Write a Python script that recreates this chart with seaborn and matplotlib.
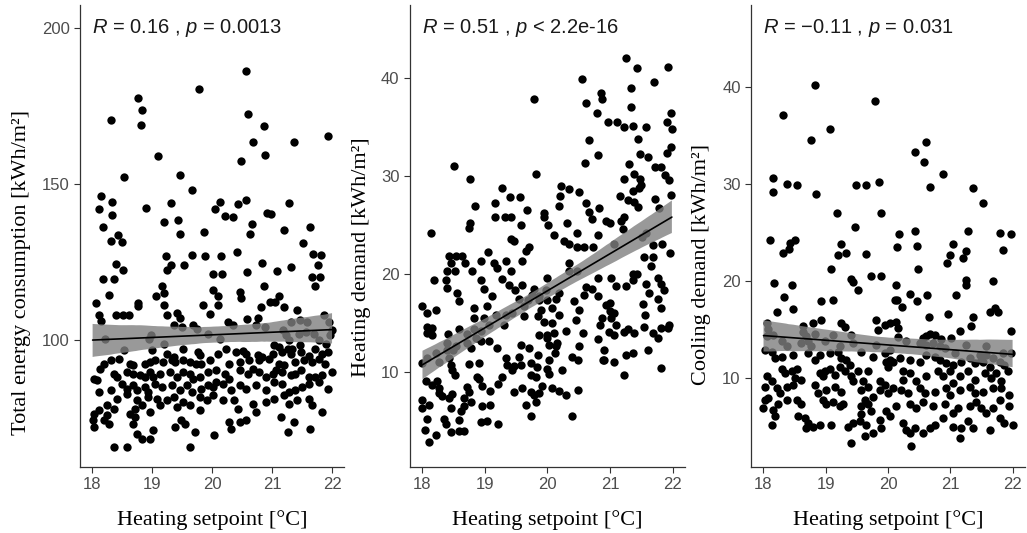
import numpy as np
import pandas as pd
import matplotlib
matplotlib.use("Agg")
import matplotlib.pyplot as plt
import matplotlib.transforms as mtransforms
import seaborn as sns

# ---------------- data ----------------
# (heating setpoint [°C], total energy consumption [kWh/m2])
total_points = [
    (20.57,186.3),(19.79,180.4),(18.76,177.5),(18.84,173.8),(18.82,169.0),(18.32,170.5),(20.60,172.5),(20.86,168.7),
    (21.93,165.4),(20.68,163.7),(21.37,163.5),(20.88,159.3),(19.10,159.0),(20.49,157.4),(19.47,153.0),(18.54,152.2),
    (19.66,148.1),(18.15,146.4),(18.33,144.3),(18.12,142.0),(20.13,144.3),(20.57,145.1),(20.44,143.6),(21.28,144.0),
    (20.05,142.0),(19.31,144.0),(18.90,142.3),(18.34,140.1),(20.21,139.8),(20.35,139.6),(20.91,140.9),(20.98,140.4),
    (19.20,137.9),(19.43,138.5),(20.66,137.4),(18.18,136.3),(19.87,134.6),(21.63,136.3),(18.43,133.8),(18.50,131.6),
    (18.32,131.9),(19.47,134.0),(20.63,134.0),(21.20,135.4),(21.51,131.3),(19.66,127.5),(19.88,126.9),(19.23,126.9),
    (20.15,126.9),(20.42,128.4),(21.68,127.7),(21.82,127.5),(18.40,124.4),(19.31,124.2),(19.53,124.2),(20.84,124.7),
    (21.31,123.6),(21.76,124.2),(18.51,122.5),(19.25,122.5),(20.02,121.4),(20.16,121.2),(20.58,122.0),(21.09,122.3),
    (21.67,120.3),(21.80,120.3),(18.18,119.6),(18.37,119.6),(21.72,117.6),(19.16,117.6),(20.86,117.6),(19.06,114.3),
    (19.20,115.2),(18.29,114.5),(20.01,116.2),(20.10,114.1),(20.46,115.6),(20.49,113.7),(21.11,114.1),(18.06,112.1),
    (18.77,112.1),(19.85,111.5),(20.10,111.5),(20.96,112.3),(21.05,112.3),(19.20,111.5),(20.82,110.8),(21.20,110.7),
    (21.41,109.7),(18.11,108.2),(18.15,106.4),(18.40,108.2),(18.52,108.1),(18.62,108.1),(18.77,111.0),(19.25,108.2),
    (19.42,108.8),(19.47,107.1),(19.96,108.6),(20.27,106.0),(20.35,104.9),(20.59,106.8),(20.76,107.1),(20.73,104.9),
    (21.87,108.2),(21.95,106.0),(21.31,106.0),(21.47,106.6),(21.59,106.0),(19.36,104.9),(19.50,104.4),(19.75,103.8),
    (19.69,104.9),(20.89,104.4),(18.21,100.5),(18.98,101.6),(18.95,100.5),(19.94,102.2),(20.13,100.5),(19.20,98.9),
    (21.18,103.3),(21.24,101.6),(21.29,100.0),(21.97,101.6),(22.00,103.3),(21.45,102.2),(21.56,102.7),(21.70,102.2),
    (21.79,100.0),(21.90,98.9),(21.04,98.4),(21.12,97.8),(21.34,97.3),(21.47,98.4),
    (18.53,97.0),(19.00,96.8),(19.25,95.7),(19.36,94.7),(19.52,97.3),(19.77,96.3),(19.80,95.2),(20.10,95.7),
    (20.24,97.3),(20.40,96.3),(20.51,96.6),(20.57,95.7),(20.76,95.2),(20.84,94.7),(21.01,95.7),(21.17,96.3),
    (21.26,97.3),(21.31,95.7),(21.48,96.3),(21.61,94.9),(21.72,97.3),(21.83,95.7),(21.94,96.3),
    (18.31,93.6),(18.20,92.5),(18.14,90.9),(18.45,94.1),(18.64,92.5),(18.69,92.0),(18.89,92.5),(18.97,93.1),
    (19.05,93.6),(19.19,93.1),(19.33,93.6),(19.38,93.1),(19.52,93.6),(19.63,93.1),(19.74,92.5),(19.82,92.5),
    (19.96,93.6),(20.29,92.5),(20.46,93.1),(20.62,93.6),(20.79,93.6),(20.95,94.1),(21.12,92.5),(21.20,92.0),
    (21.39,93.1),(21.53,93.6),(21.67,93.1),(21.78,94.1),(21.89,92.5),
    (18.03,87.7),(18.09,87.2),(18.36,89.3),(18.42,88.2),(18.58,89.9),(18.69,89.3),(18.80,88.8),(18.89,88.2),
    (18.97,89.9),(19.02,88.2),(19.13,89.3),(19.30,89.9),(19.41,88.2),(19.52,89.9),(19.63,89.3),(19.69,87.7),
    (19.80,88.2),(19.93,89.9),(20.07,90.4),(20.21,89.3),(20.29,87.7),(20.46,90.4),(20.60,89.3),(20.68,90.9),
    (20.79,89.9),(20.90,88.2),(21.01,89.3),(21.06,90.4),(21.17,89.9),(21.31,88.8),(21.39,89.3),(21.48,90.4),
    (21.61,88.2),(21.72,88.2),(21.83,88.8),(22.00,89.9),
    (18.12,83.4),(18.31,84.0),(18.50,86.1),(18.58,84.5),(18.69,85.6),(18.75,84.0),(18.89,85.0),(18.94,83.4),
    (19.05,86.1),(19.16,85.0),(19.33,85.6),(19.47,84.0),(19.58,85.6),(19.66,83.4),(19.82,84.5),(19.93,85.6),
    (20.02,85.0),(20.07,86.6),(20.18,86.1),(20.32,84.0),(20.46,85.6),(20.57,84.5),(20.73,85.6),(20.90,84.0),
    (21.04,86.6),(21.17,86.1),(21.28,83.4),(21.39,84.0),(21.50,85.0),(21.61,86.1),(21.78,86.6),(21.94,84.5),
    (18.42,81.3),(18.58,82.9),(18.75,80.8),(18.72,78.1),(18.83,79.2),(18.94,81.8),(19.08,81.3),(19.13,79.2),
    (19.25,80.8),(19.36,81.8),(19.41,78.6),(19.52,80.2),(19.63,79.2),(19.80,81.8),(19.91,80.8),(20.02,82.4),
    (20.18,80.8),(20.37,80.8),(20.43,78.1),(20.68,79.7),(20.90,80.2),(21.04,81.3),(21.20,82.4),(21.28,79.7),
    (21.42,80.8),(21.61,81.3),(21.67,79.2),
    (18.03,76.5),(18.12,77.6),(18.25,79.2),(18.25,76.0),(18.36,78.1),(18.01,74.4),(18.03,72.2),(18.20,74.4),
    (18.28,73.3),(18.64,76.5),(18.72,75.4),(18.69,73.3),(18.97,77.0),(19.49,74.4),(19.55,73.3),(19.80,77.6),
    (20.29,73.8),(20.46,73.8),(20.57,74.4),(20.73,77.0),(21.15,75.4),(21.37,73.8),(21.83,77.0),
    (18.75,70.1),(18.83,68.5),(18.97,68.5),(19.02,71.2),(19.38,72.2),(19.71,70.6),(20.04,69.6),(20.32,71.7),
    (21.26,70.6),(21.64,71.7),(18.37,66.0),(18.58,65.8),(19.63,65.8),
]

# (heating setpoint [°C], heating demand [kWh/m2])
heating_points = [
    (21.25,41.95),(21.43,41.0),(21.92,41.1),(20.56,39.9),(21.71,39.55),(21.33,38.97),(20.85,38.4),(20.88,37.8),
    (19.79,37.8),(20.62,37.4),(21.33,37.0),(20.79,36.4),(20.96,35.5),(21.11,35.5),(21.23,35.0),(21.37,35.1),
    (21.57,35.0),(21.97,36.4),(21.91,35.5),(21.99,34.7),(20.66,33.6),(21.45,33.7),(21.97,32.9),(21.91,32.3),
    (21.48,32.2),(21.60,31.9),(20.81,32.1),(20.60,31.3),(21.31,31.2),(18.51,31.0),(21.72,30.9),(21.81,30.9),
    (19.81,30.2),(21.39,30.2),(21.88,30.1),(18.76,29.7),(21.22,29.6),(21.48,29.7),(21.94,29.5),(21.50,29.0),
    (21.47,28.7),(19.28,28.7),(20.21,28.9),(20.35,28.6),(20.50,28.3),(21.37,28.4),(20.20,27.9),(21.97,28.0),
    (19.40,27.8),(19.56,27.8),(21.16,27.9),(21.72,27.6),(19.16,27.2),(20.61,27.2),(21.28,27.5),(21.39,27.3),
    (18.84,26.9),(20.19,26.9),(20.83,26.7),(21.79,26.7),(20.66,26.3),(19.67,26.5),(21.44,26.8),(19.94,26.2),
    (19.16,25.8),(19.32,25.8),(19.41,25.8),(20.72,25.6),(21.23,25.8),(21.17,25.4),(20.93,25.4),(19.95,25.8),
    (20.01,25.0),(19.57,25.0),(20.32,25.2),(18.76,25.2),(18.75,24.7),(21.00,25.2),(21.21,24.6),(18.13,24.1),
    (20.47,24.1),(20.10,23.9),(20.81,23.9),(21.57,24.1),(21.51,23.7),(19.41,23.5),(19.47,23.3),(20.27,23.3),
    (19.71,22.7),(20.47,22.7),(20.59,22.7),(20.73,22.7),(21.68,22.9),(21.83,23.0),(21.07,23.0),(21.96,22.1),
    (20.35,23.0),(19.65,22.3),(18.43,21.8),(18.54,21.8),(18.63,21.8),(19.05,22.2),(18.45,21.1),(18.68,21.1),
    (18.94,21.3),(19.14,21.1),(19.33,21.3),(19.60,21.3),(21.68,21.7),(21.55,21.7),(19.20,20.6),(20.35,21.1),
    (20.48,20.3),(21.65,20.8),(18.39,20.3),(18.52,20.3),(18.80,20.3),(19.41,20.3),(20.35,20.3),(21.37,20.0),
    (21.43,20.0),(18.19,19.3),(18.38,19.3),(18.93,19.3),(19.27,19.4),(20.00,19.6),(21.01,19.6),(21.76,19.6),
    (20.81,19.6),(21.36,19.3),(21.81,18.9),(21.57,18.9),(19.39,18.8),(19.60,18.8),(21.09,18.7),(21.25,18.7),
    (18.40,18.5),(18.99,18.4),(19.48,18.3),(19.78,18.4),(20.61,18.6),(20.72,18.4),(21.87,18.3),(19.97,18.3),
    (20.19,18.0),(18.56,18.0),(19.75,17.8),(19.86,17.7),(21.63,18.0),(20.59,17.8),(20.81,17.7),(19.12,17.7),
    (19.87,17.3),(18.59,17.2),(19.55,17.4),(19.69,17.3),(20.00,17.3),(20.13,17.4),(21.76,17.4),(20.43,17.2),
    (21.00,17.0),(20.93,16.8),(19.63,16.7),(18.83,16.5),(19.04,16.7),(18.00,16.7),(19.90,16.3),(20.08,16.5),
    (20.50,16.3),(18.21,16.3),(21.53,16.9),(21.81,16.5),(21.00,16.2),(19.17,15.8),(19.34,15.8),(19.44,16.0),
    (19.63,15.7),(19.85,15.7),(20.19,15.8),(21.07,16.0),(18.08,16.0),(18.83,15.5),(18.98,15.5),(20.46,15.3),
    (20.88,15.5),(21.01,15.5),(21.56,15.8),(19.07,14.8),(19.31,14.8),(19.95,15.1),(20.08,15.0),(20.84,14.8),
    (21.09,14.8),(18.08,14.6),(18.15,14.5),(21.55,14.6),(21.81,14.5),(21.95,14.8),(21.92,14.5),(18.59,14.3),
    (18.83,14.3),(18.93,14.1),(20.99,14.0),(21.23,14.0),(18.08,13.9),(18.16,13.7),(18.41,13.8),(18.72,13.8),
    (19.87,13.7),(20.00,13.7),(20.11,13.9),(20.29,14.1),(21.28,14.3),(21.39,13.9),(21.68,13.9),(21.07,13.7),
    (20.57,13.9),(18.85,13.4),(20.00,13.4),(21.76,13.4),(18.93,13.1),(20.81,13.3),(18.40,12.9),(18.53,12.6),
    (18.72,12.9),(18.77,12.4),(19.07,13.1),(19.57,12.7),(20.03,12.7),(20.16,12.9),(18.39,12.2),(18.49,12.2),
    (19.20,12.4),(19.71,12.4),(20.13,12.6),(20.50,12.6),(20.91,12.2),(21.61,12.2),(18.21,11.9),(18.08,11.4),
    (20.12,11.9),(20.40,11.5),(21.25,11.7),(21.37,11.9),(20.91,11.2),(19.55,11.5),(19.33,11.4),(19.85,11.7),
    (18.43,11.4),(18.00,10.9),(18.27,11.0),(18.45,10.7),(18.75,10.8),(18.91,10.9),(19.36,10.7),(19.47,10.6),
    (19.73,10.9),(20.03,11.2),(20.49,11.2),(21.07,11.0),(20.89,11.2),(19.44,10.2),(18.48,10.2),(21.81,10.4),
    (20.00,10.3),(19.84,10.5),(19.57,10.7),(19.73,9.7),(18.52,9.7),(20.03,9.8),(20.24,10.2),(21.23,9.7),
    (19.81,9.5),(18.88,9.4),(19.28,9.5),(18.05,9.0),(18.24,9.0),(18.91,9.2),(18.16,8.6),(18.27,8.3),
    (18.72,8.4),(18.96,8.5),(19.21,8.7),(18.75,7.9),(19.08,8.0),(19.60,8.3),(19.92,8.5),(20.08,8.3),
    (18.27,7.8),(18.48,7.7),(18.32,7.5),(19.73,7.9),(19.47,7.9),(19.87,7.8),(20.49,8.1),(20.19,8.0),
    (20.29,7.6),(18.43,7.3),(18.67,7.3),(19.79,7.6),(18.00,7.1),(18.77,6.9),(19.81,6.9),(18.11,6.6),
    (18.67,6.5),(18.61,6.0),(18.96,6.5),(19.08,6.6),(19.65,6.6),(18.00,6.3),(18.45,6.3),(19.73,5.5),
    (20.40,5.5),(18.08,5.2),(18.35,5.2),(18.37,4.7),(18.59,5.1),(18.93,4.9),(19.04,5.0),(19.21,4.7),
    (18.45,3.8),(18.59,3.9),(18.67,3.9),(18.04,4.0),(18.22,3.5),(18.10,2.8),
]

# (heating setpoint [°C], cooling demand [kWh/m2])
cooling_points = [
    (18.82,40.2),(19.79,38.5),(18.32,37.1),(19.07,35.6),(18.77,34.5),(20.61,34.3),(20.43,33.3),(20.58,32.2),
    (20.88,31.0),(18.15,30.6),(18.15,29.2),(18.37,30.0),(18.54,29.9),(19.48,29.9),(19.65,29.9),(19.85,30.2),
    (20.67,29.7),(21.36,29.6),(18.85,29.0),(21.52,28.0),(19.18,27.0),(19.88,27.0),(19.47,25.6),(20.44,25.1),
    (20.17,24.8),(21.29,25.2),(21.79,24.9),(21.97,24.8),(18.11,24.2),(18.43,23.9),(18.41,23.3),(18.51,24.2),
    (18.32,22.9),(19.25,23.8),(19.19,22.7),(19.32,22.9),(19.64,22.8),(20.46,23.6),(20.15,23.5),(21.05,23.8),
    (20.99,22.7),(20.95,21.9),(21.25,23.1),(21.21,22.4),(21.84,23.2),(19.09,21.2),(20.48,21.2),(19.40,20.2),
    (19.43,19.9),(19.72,20.5),(19.89,20.5),(18.17,19.8),(18.46,19.6),(20.13,19.6),(21.25,19.6),(21.25,20.1),
    (21.68,20.0),(19.52,19.1),(20.35,18.7),(20.63,18.6),(21.09,18.6),(18.33,18.4),(20.11,18.1),(20.15,18.0),
    (20.47,17.9),(18.92,17.9),(19.12,18.0),(20.22,17.3),(18.47,17.1),(21.71,17.2),(21.76,16.8),(21.64,16.8),
    (18.21,16.8),(20.97,16.6),(20.65,16.3),(21.36,16.3),
    (18.05,15.65),(18.08,15.1),(18.64,15.4),(18.80,15.7),(18.93,16.0),(19.25,15.7),(19.31,15.3),(19.41,14.4),
    (19.81,16.0),(19.84,15.0),(19.95,15.5),(20.03,15.7),(20.13,15.8),(20.16,15.2),(21.33,15.4),(21.15,14.9),
    (21.97,14.9),(20.75,14.5),(20.67,14.6),(20.61,14.3),(20.85,14.0),(21.01,14.1),(20.16,14.2),(20.29,13.8),
    (18.05,14.3),(18.16,14.4),(18.29,13.8),(18.64,14.8),(18.69,14.3),(18.72,13.8),(18.77,13.3),(18.83,14.6),
    (18.99,13.8),(19.12,14.4),(19.23,13.3),(19.44,13.6),(19.81,13.4),(20.03,12.9),(20.51,13.6),(20.61,13.4),
    (20.72,13.6),(20.83,13.3),(20.56,14.1),(21.07,12.6),(20.91,13.1),(21.25,13.4),(21.57,13.3),(21.47,12.4),
    (21.49,11.9),(21.57,12.4),(21.68,12.1),(21.84,12.6),(21.97,12.6),
    (18.03,12.9),(18.13,12.75),(18.19,12.1),(18.29,12.2),(18.37,13.3),(18.48,12.4),(18.61,13.6),(18.72,12.6),
    (18.83,11.9),(18.91,12.4),(19.07,12.6),(19.20,12.75),(19.25,12.1),(19.33,11.9),(19.39,11.4),(19.57,12.75),
    (19.76,12.2),(19.95,12.6),(19.97,11.7),(20.03,11.9),(20.00,11.2),(20.08,11.7),(20.19,12.1),(20.35,11.9),
    (20.51,11.7),(20.61,12.4),(20.75,12.2),(20.83,11.9),(20.93,11.6),(21.04,11.4),(21.17,11.7),(21.31,12.1),
    (21.39,11.6),(21.52,11.7),(21.63,11.2),(21.79,11.7),(21.87,11.4),
    (18.05,10.2),(18.13,9.7),(18.29,11.0),(18.35,10.5),(18.45,10.7),(18.53,10.9),(18.51,10.0),(18.61,9.8),
    (18.91,10.5),(18.96,10.2),(18.99,10.7),(19.07,11.0),(19.15,10.35),(19.23,11.2),(19.31,10.7),(19.41,10.2),
    (19.52,10.7),(19.68,10.7),(19.44,9.7),(19.60,9.7),(19.87,9.7),(19.95,9.3),(20.24,10.7),(20.24,9.8),
    (20.35,10.5),(20.45,9.7),(20.61,10.2),(20.80,10.7),(20.88,10.2),(20.99,10.7),(21.04,9.5),(21.15,10.2),
    (21.28,10.7),(21.39,9.8),(21.55,10.5),(21.65,10.0),(21.73,10.5),(21.81,9.7),(21.92,10.7),
    (18.03,9.15),(18.21,9.0),(18.27,8.5),(18.37,9.15),(18.48,9.3),(18.83,9.3),(18.88,8.5),(19.01,8.8),
    (19.15,9.15),(19.25,8.6),(19.57,8.8),(19.68,9.15),(19.76,8.1),(19.87,8.8),(20.00,8.5),(20.08,9.0),
    (20.21,8.8),(20.32,8.5),(20.51,9.0),(20.59,8.5),(20.75,8.6),(20.93,9.0),(20.99,8.3),(21.15,8.8),
    (21.31,9.15),(21.39,8.5),(21.52,8.6),(21.68,9.0),(21.81,9.0),(21.95,8.3),
    (18.03,7.8),(18.08,7.95),(18.00,6.9),(18.16,6.75),(18.24,7.4),(18.37,7.8),(18.53,7.8),(18.61,7.4),
    (18.96,7.8),(19.01,7.4),(19.12,7.6),(19.23,7.1),(19.28,7.3),(19.57,7.1),(19.63,7.8),(19.68,7.3),
    (19.73,6.6),(19.57,6.3),(19.97,6.6),(20.13,7.1),(20.35,7.3),(20.45,6.9),(20.56,7.6),(20.72,7.1),
    (20.91,7.3),(21.04,6.4),(21.12,6.9),(21.31,7.1),(21.41,7.6),(21.49,6.9),(21.57,6.4),(21.68,6.9),
    (21.79,7.8),(21.95,7.1),
    (18.13,5.2),(18.19,6.1),(18.56,6.1),(18.67,5.9),(18.69,4.9),(18.72,5.4),(18.80,5.0),(18.91,5.2),
    (19.09,5.2),(19.36,5.0),(19.44,5.4),(19.55,5.55),(19.65,5.2),(19.89,4.9),(19.87,5.7),(20.03,6.1),
    (20.24,5.4),(20.29,4.7),(20.35,4.35),(20.43,4.9),(20.56,4.35),(20.67,4.9),(20.75,5.2),(20.88,5.9),
    (21.04,5.0),(21.17,4.9),(21.28,5.55),(21.36,4.9),(21.63,4.7),(21.79,5.9),(21.87,5.4),(22.00,5.2),
    (19.41,3.3),(19.63,4.1),(19.76,4.35),(20.37,3.0),(21.15,3.9),
]

panel_ylabels = ["Total energy consumption [kWh/m\u00b2]",
                 "Heating demand [kWh/m\u00b2]",
                 "Cooling demand [kWh/m\u00b2]"]
panel_stats = ["$R$ = 0.16 , $p$ = 0.0013",
               "$R$ = 0.51 , $p$ < 2.2e-16",
               "$R$ = \u22120.11 , $p$ = 0.031"]
panel_yticks = [[100, 150, 200], [10, 20, 30, 40], [10, 20, 30, 40]]
panel_ylims = [(59.6, 207.4), (0.3, 47.4), (0.9, 48.4)]
x_ticks = [18, 19, 20, 21, 22]
x_label = "Heating setpoint [\u00b0C]"

# ---------------- style ----------------
sns.set_theme(style="ticks")
plt.rcParams["font.family"] = ["Liberation Sans", "DejaVu Sans"]
plt.rcParams["mathtext.fontset"] = "custom"
plt.rcParams["mathtext.it"] = "Liberation Sans:italic"
plt.rcParams["mathtext.rm"] = "Liberation Sans"

fig = plt.figure(figsize=(10.27, 5.33), dpi=100)
lefts = [0.0779, 0.3992, 0.7313]
widths = [0.2571, 0.2678, 0.2668]
bottom, height = 0.1244, 0.8662
ylabel_centres = [0.421, 0.454, 0.437]
ylabel_x = [-0.186, -0.142, -0.146]

datasets = [total_points, heating_points, cooling_points]
for i, pts in enumerate(datasets):
    ax = fig.add_axes([lefts[i], bottom, widths[i], height])
    df = pd.DataFrame(pts, columns=["setpoint", "value"])
    sns.scatterplot(data=df, x="setpoint", y="value", ax=ax, color="black",
                    s=36, linewidth=0, zorder=2)
    n_before = len(ax.collections)
    sns.regplot(data=df, x="setpoint", y="value", ax=ax, scatter=False,
                color="black", ci=95, seed=3, truncate=True,
                line_kws=dict(lw=1.2, zorder=4))
    for coll in ax.collections[n_before:]:
        coll.set_facecolor("#808080")
        coll.set_edgecolor("none")
        coll.set_alpha(0.8)
        coll.set_zorder(3)

    ax.set_xlim(17.8, 22.2)
    ax.set_ylim(*panel_ylims[i])
    ax.set_xticks(x_ticks)
    ax.set_yticks(panel_yticks[i])
    ax.set_xlabel(x_label, fontfamily="Liberation Serif", fontsize=16,
                  color="black", labelpad=13)
    ax.set_ylabel(panel_ylabels[i], fontfamily="Liberation Serif", fontsize=16,
                  color="black")
    ax.yaxis.set_label_coords(ylabel_x[i], ylabel_centres[i])
    ax.tick_params(axis="both", labelsize=12, labelcolor="#4d4d4d",
                   color="#333333", length=4, width=0.8, direction="out")
    for side in ["top", "right"]:
        ax.spines[side].set_visible(False)
    for side in ["left", "bottom"]:
        ax.spines[side].set_color("#333333")
        ax.spines[side].set_linewidth(0.9)

    trans = mtransforms.blended_transform_factory(ax.transData, ax.transAxes)
    ax.text(18.0, 0.950, panel_stats[i], transform=trans, ha="left",
            va="center", fontsize=14.5, color="#1a1a1a")

fig.savefig("out.png", dpi=100)
